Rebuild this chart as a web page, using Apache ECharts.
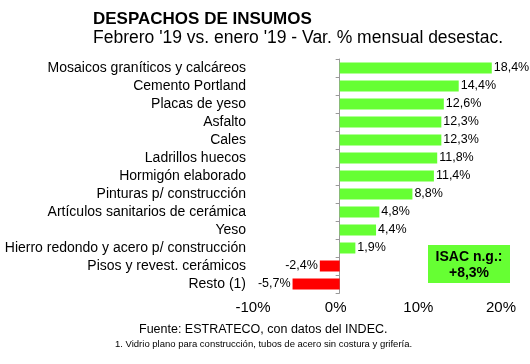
<!DOCTYPE html>
<html><head><meta charset="utf-8">
<script src="https://cdn.jsdelivr.net/npm/echarts@6/dist/echarts.min.js"></script>
<style>html,body{margin:0;padding:0;background:#fff}#c{width:530px;height:364px}</style>
</head><body><div id="c"></div>
<script>
const categories = ["Mosaicos graníticos y calcáreos","Cemento Portland","Placas de yeso","Asfalto","Cales","Ladrillos huecos","Hormigón elaborado","Pinturas p/ construcción","Artículos sanitarios de cerámica","Yeso","Hierro redondo y acero p/ construcción","Pisos y revest. cerámicos","Resto (1)"];
const values = [18.4,14.4,12.6,12.3,12.3,11.8,11.4,8.8,4.8,4.4,1.9,-2.4,-5.7];
const xTicks = [-10,0,10,20];
const isacValue = "+8,3%";

const F = "'Liberation Sans', Arial, sans-serif";
const chart = echarts.init(document.getElementById('c'), null, {renderer:'canvas'});
const data = values.map(v => ({
  value: v,
  itemStyle: {color: v >= 0 ? '#66FF33' : '#FF0000'},
  label: {position: v >= 0 ? 'right' : 'left'}
}));
chart.setOption({
  animation: false,
  backgroundColor: '#fff',
  title: [
    {text: 'DESPACHOS DE INSUMOS', left: 88, top: 6, textStyle:{fontFamily:F, fontSize:17, fontWeight:'bold', color:'#000'}},
    {text: "Febrero '19 vs. enero '19 - Var. % mensual desestac.", left: 88, top: 24, textStyle:{fontFamily:F, fontSize:17.5, fontWeight:'normal', color:'#000'}},
    {text: 'Fuente: ESTRATECO, con datos del INDEC.', left: 134, top: 318, textStyle:{fontFamily:F, fontSize:12.5, fontWeight:'normal', color:'#000'}},
    {text: '1. Vidrio plano para construcción, tubos de acero sin costura y grifería.', left: 110, top: 334, textStyle:{fontFamily:F, fontSize:9.5, fontWeight:'normal', color:'#000'}}
  ],
  grid: {left: 257, right: 25, top: 59, bottom: 71, containLabel: false},
  xAxis: {
    type: 'value', min: xTicks[0], max: xTicks[xTicks.length-1], interval: 10,
    axisLine: {show: false}, axisTick: {show: false}, splitLine: {show: false},
    axisLabel: {formatter: '{value}%', fontFamily: F, fontSize: 15, color: '#000', margin: 7, padding: [0, 8, 0, 0]}
  },
  yAxis: [
    {
      type: 'category', data: categories, inverse: true,
      axisLine: {show: true, onZero: true, lineStyle: {color: '#999', width: 1}},
      axisTick: {show: true, length: 4, interval: 0, lineStyle: {color: '#999'}},
      axisLabel: {show: false}
    },
    {
      type: 'category', data: categories, inverse: true, position: 'left',
      axisLine: {show: false, onZero: false}, axisTick: {show: false},
      axisLabel: {interval: 0, fontFamily: F, fontSize: 14, color: '#000', margin: 11}
    }
  ],
  series: [{
    type: 'bar', data: data, yAxisIndex: 0, barWidth: 11,
    label: {show: true, distance: 2, fontFamily: F, fontSize: 12.5, color: '#000',
      formatter: p => p.value.toFixed(1).replace('.', ',') + '%'}
  }],
  graphic: [
    {type: 'rect', shape: {x: 428, y: 245, width: 82, height: 38}, style: {fill: '#66FF33'}},
    {type: 'text', x: 469, y: 250, style: {text: 'ISAC n.g.:', font: 'bold 14px ' + F, fill: '#000', textAlign: 'center'}},
    {type: 'text', x: 469, y: 266, style: {text: isacValue, font: 'bold 14px ' + F, fill: '#000', textAlign: 'center'}}
  ]
});
</script></body></html>
